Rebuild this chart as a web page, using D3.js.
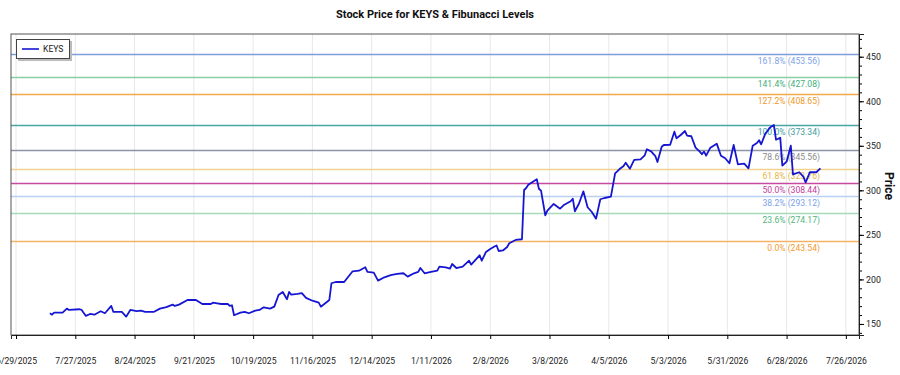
<!DOCTYPE html>
<html>
<head>
<meta charset="utf-8">
<script src="https://cdnjs.cloudflare.com/ajax/libs/d3/7.8.5/d3.min.js"></script>
<style>
  body { margin: 0; background: #fff; }
  text { font-family: Roboto, "Noto Sans", sans-serif; }
</style>
</head>
<body>
<div id="chart"></div>
<script>
var svgWidth = 900;
var svgHeight = 375;

var margin = { top: 34, right: 41, bottom: 40, left: 11 };
var width = svgWidth - margin.left - margin.right;
var height = svgHeight - margin.top - margin.bottom;

// price series
var dates = [
  "2025-07-15","2025-07-16","2025-07-17","2025-07-21","2025-07-23","2025-07-24","2025-07-29","2025-07-30",
  "2025-08-01","2025-08-03","2025-08-05","2025-08-08","2025-08-10","2025-08-13","2025-08-14","2025-08-18",
  "2025-08-20","2025-08-22","2025-08-25","2025-08-27","2025-08-29","2025-09-02","2025-09-05","2025-09-08",
  "2025-09-11","2025-09-12","2025-09-14","2025-09-18","2025-09-22","2025-09-25","2025-09-29","2025-09-30",
  "2025-10-02","2025-10-04","2025-10-07","2025-10-08","2025-10-09","2025-10-10","2025-10-13","2025-10-15",
  "2025-10-17","2025-10-20","2025-10-22","2025-10-24","2025-10-27","2025-10-29","2025-10-31","2025-11-02",
  "2025-11-04","2025-11-05","2025-11-06","2025-11-09","2025-11-11","2025-11-13","2025-11-16","2025-11-19",
  "2025-11-20","2025-11-24","2025-11-25","2025-11-27","2025-12-01","2025-12-05","2025-12-08","2025-12-11",
  "2025-12-12","2025-12-15","2025-12-17","2025-12-20","2025-12-23","2025-12-26","2025-12-29","2025-12-31",
  "2026-01-03","2026-01-05","2026-01-06","2026-01-08","2026-01-11","2026-01-14","2026-01-15","2026-01-18",
  "2026-01-20","2026-01-21","2026-01-23","2026-01-26","2026-01-29","2026-01-30","2026-02-03","2026-02-04",
  "2026-02-06","2026-02-08","2026-02-10","2026-02-11","2026-02-12","2026-02-14","2026-02-16","2026-02-17",
  "2026-02-20","2026-02-23","2026-02-24","2026-02-25","2026-02-26","2026-02-28","2026-03-02","2026-03-03",
  "2026-03-04","2026-03-06","2026-03-07","2026-03-10","2026-03-13","2026-03-15","2026-03-18","2026-03-19",
  "2026-03-20","2026-03-22","2026-03-24","2026-03-26","2026-03-28","2026-03-30","2026-04-01","2026-04-03",
  "2026-04-06","2026-04-08","2026-04-10","2026-04-12","2026-04-13","2026-04-15","2026-04-17","2026-04-20",
  "2026-04-22","2026-04-23","2026-04-25","2026-04-27","2026-04-28","2026-04-30","2026-05-01","2026-05-04",
  "2026-05-06","2026-05-07","2026-05-09","2026-05-11","2026-05-12","2026-05-14","2026-05-16","2026-05-18",
  "2026-05-19","2026-05-20","2026-05-21","2026-05-23","2026-05-26","2026-05-28","2026-05-30","2026-06-01",
  "2026-06-03","2026-06-05","2026-06-08","2026-06-10","2026-06-12","2026-06-14","2026-06-15","2026-06-16",
  "2026-06-18","2026-06-19","2026-06-20","2026-06-22","2026-06-23","2026-06-25","2026-06-26","2026-06-28",
  "2026-06-30","2026-07-01","2026-07-04","2026-07-06","2026-07-07","2026-07-09","2026-07-12","2026-07-14"
];
var prices = [
  162.0,160.4,162.7,162.7,167.2,165.7,166.5,165.7,
  159.0,161.2,160.4,164.3,162.0,170.2,163.5,163.5,
  158.2,165.7,164.3,164.9,163.5,163.5,167.2,168.8,
  171.7,170.2,171.7,176.9,176.9,172.4,172.4,173.9,
  173.2,172.4,172.4,170.2,171.0,159.8,162.7,163.5,
  162.0,164.9,165.7,168.7,167.2,169.4,182.5,185.9,
  177.7,185.9,182.9,183.7,184.5,179.2,176.1,173.9,
  169.4,176.9,195.7,197.1,197.1,209.1,209.8,213.6,
  208.4,207.6,198.6,202.4,204.7,206.1,206.9,203.1,
  206.9,208.4,212.8,206.9,208.4,209.8,214.3,213.6,
  212.1,217.3,212.8,214.3,221.0,216.6,227.1,221.0,
  230.8,234.2,237.0,238.1,231.9,232.5,236.4,240.6,
  244.3,245.1,300.4,302.6,306.3,309.4,312.4,301.8,
  299.6,272.0,277.2,284.7,279.4,283.9,287.7,290.6,
  276.5,285.5,298.9,281.0,275.7,268.2,290.0,291.4,
  292.9,319.1,323.6,327.3,331.0,324.3,334.1,334.8,
  339.3,346.1,343.8,338.5,331.8,349.0,350.9,351.2,
  365.8,358.4,362.1,366.6,361.3,360.7,347.9,343.4,
  340.5,343.4,338.9,347.9,352.4,338.9,336.0,330.4,
  350.9,329.2,329.9,324.7,350.1,353.1,356.2,351.7,
  364.0,366.6,370.3,373.3,356.8,359.1,327.7,332.2,
  350.1,318.0,320.3,315.0,309.0,320.3,320.3,324.7
];

// fibonacci levels
var fibPercents = ["0.0%", "23.6%", "38.2%", "50.0%", "61.8%", "78.6%", "100.0%", "127.2%", "141.4%", "161.8%"];
var fibValues = [243.54, 274.17, 293.12, 308.44, 323.76, 345.56, 373.34, 408.65, 427.08, 453.56];
var fibLineColors = ["#f6b264", "#a9d9bb", "#b9d0f2", "#c54aa0", "#f1d38e", "#8c95a8", "#4aa5a5", "#f4a847", "#86d0a4", "#7f9fdc"];
var fibTextColors = ["#f19b2f", "#4fb57c", "#7aa2e8", "#c23d9c", "#e4b345", "#8a8a8a", "#3c9d9d", "#f0982c", "#41ae7b", "#7ea2e6"];

// axis ticks
var xTickDates = ["2025-06-29","2025-07-27","2025-08-24","2025-09-21","2025-10-19","2025-11-16","2025-12-14",
  "2026-01-11","2026-02-08","2026-03-08","2026-04-05","2026-05-03","2026-05-31","2026-06-28","2026-07-26"];
var yTicks = [150, 200, 250, 300, 350, 400, 450];

var parseDate = d3.timeParse("%Y-%m-%d");
var series = dates.map((d, i) => ({ date: parseDate(d), price: prices[i] }));

var svg = d3.select("#chart")
    .append("svg")
    .attr("width", svgWidth)
    .attr("height", svgHeight);

var chartGroup = svg.append("g")
    .attr("transform", `translate(${margin.left}, ${margin.top})`);

var xScale = d3.scaleTime()
    .domain([new Date(2025, 5, 26, 15), new Date(2026, 7, 1, 5)])
    .range([0, width]);

var yScale = d3.scaleLinear()
    .domain([137.6, 475.5])
    .range([height, 0]);

var xTicks = xTickDates.map(parseDate);

// vertical grid
chartGroup.selectAll("line.vgrid")
    .data(xTicks)
    .enter()
    .append("line")
    .attr("x1", d => xScale(d))
    .attr("x2", d => xScale(d))
    .attr("y1", 0)
    .attr("y2", height)
    .attr("stroke", "#e8e8e8")
    .attr("stroke-width", 1);

// fib lines
chartGroup.selectAll("line.fib")
    .data(fibValues)
    .enter()
    .append("line")
    .attr("x1", 0)
    .attr("x2", width)
    .attr("y1", d => Math.round(yScale(d)) + 0.5)
    .attr("y2", d => Math.round(yScale(d)) + 0.5)
    .attr("stroke", (d, i) => fibLineColors[i])
    .attr("stroke-width", 1.3);

// fib labels
chartGroup.selectAll("text.fib")
    .data(fibValues)
    .enter()
    .append("text")
    .attr("x", 809)
    .attr("y", d => yScale(d) + 10)
    .attr("text-anchor", "end")
    .style("font-size", "8.6px")
    .style("fill", (d, i) => fibTextColors[i])
    .text((d, i) => `${fibPercents[i]} (${d.toFixed(2)})`);

// price line
var line = d3.line()
    .x(d => xScale(d.date))
    .y(d => yScale(d.price));

chartGroup.append("path")
    .datum(series)
    .attr("fill", "none")
    .attr("stroke", "#1616d2")
    .attr("stroke-width", 1.8)
    .attr("stroke-linejoin", "round")
    .attr("d", line);

// frame
chartGroup.append("rect")
    .attr("width", width)
    .attr("height", height)
    .attr("fill", "none")
    .attr("stroke", "#555")
    .attr("stroke-width", 1);

// x axis
var bottomAxis = d3.axisBottom(xScale)
    .tickValues(xTicks)
    .tickSize(4)
    .tickPadding(19)
    .tickFormat(d3.timeFormat("%-m/%-d/%Y"));

var xAxis = chartGroup.append("g")
    .attr("transform", `translate(0, ${height})`)
    .call(bottomAxis);
xAxis.select(".domain").attr("stroke", "#222");
xAxis.selectAll("text").style("font-size", "8.6px").style("fill", "#222").style("font-family", "Roboto");

// y axis on the right, with minor ticks
var minorAxis = d3.axisRight(yScale)
    .tickValues(d3.range(140, 476, 10))
    .tickSize(3)
    .tickFormat("");
chartGroup.append("g")
    .attr("transform", `translate(${width}, 0)`)
    .call(minorAxis)
    .call(g => g.select(".domain").remove());

var rightAxis = d3.axisRight(yScale)
    .tickValues(yTicks)
    .tickSize(5)
    .tickPadding(2);

var yAxis = chartGroup.append("g")
    .attr("transform", `translate(${width}, 0)`)
    .call(rightAxis);
yAxis.select(".domain").attr("stroke", "#222");
yAxis.selectAll("text").style("font-size", "8.8px").style("fill", "#222").style("font-family", "Roboto");

// axis title
svg.append("text")
    .attr("transform", `translate(885, 186) rotate(90)`)
    .attr("text-anchor", "middle")
    .style("font-size", "12px")
    .style("font-weight", "bold")
    .style("fill", "#111")
    .text("Price");

// chart title
svg.append("text")
    .attr("x", margin.left + width / 2)
    .attr("y", 18)
    .attr("text-anchor", "middle")
    .style("font-size", "11px")
    .style("font-weight", "bold")
    .style("fill", "#111")
    .text("Stock Price for KEYS & Fibunacci Levels");

// legend
var legend = svg.append("g").attr("transform", "translate(16, 39)");
legend.append("rect")
    .attr("x", 2).attr("y", 2)
    .attr("width", 54).attr("height", 20)
    .attr("fill", "#bbb");
legend.append("rect")
    .attr("x", 0.5).attr("y", 0.5)
    .attr("width", 53).attr("height", 19)
    .attr("fill", "#fff")
    .attr("stroke", "#444");
legend.append("line")
    .attr("x1", 6).attr("x2", 23)
    .attr("y1", 10).attr("y2", 10)
    .attr("stroke", "#1616d2")
    .attr("stroke-width", 1.6);
legend.append("text")
    .attr("x", 27)
    .attr("y", 13)
    .style("font-size", "8.6px")
    .style("fill", "#222")
    .text("KEYS");
</script>
</body>
</html>
